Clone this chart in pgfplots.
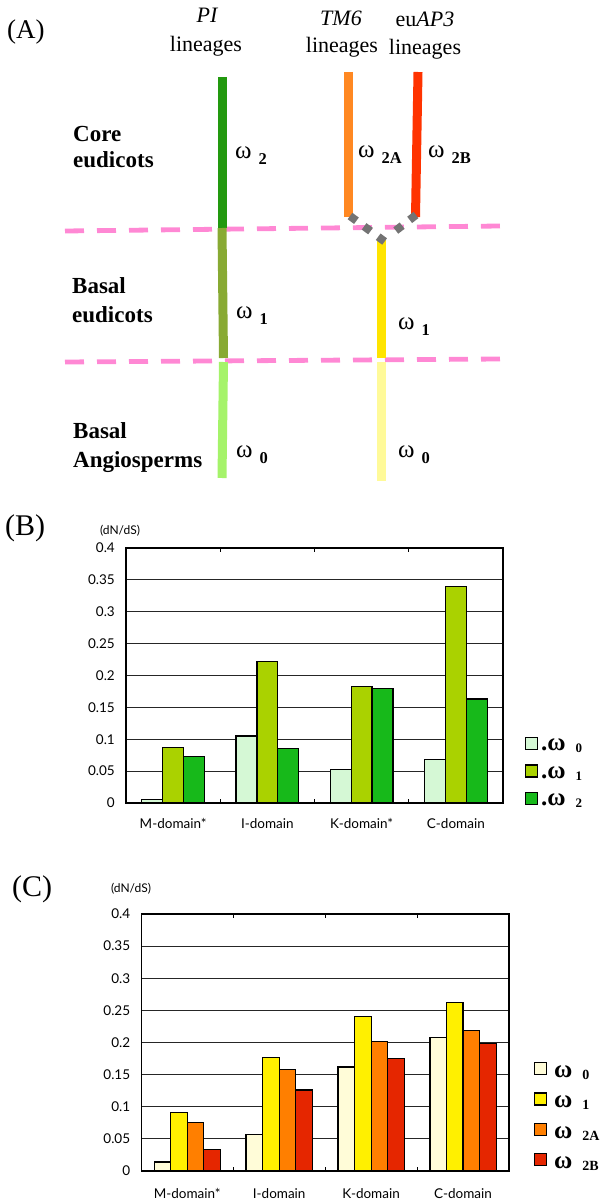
\documentclass[border=0pt]{standalone}
\usepackage{fontspec}
\setmainfont{Liberation Serif}
\newfontfamily\futura{Lato}
\usepackage{pgfplots}
\pgfplotsset{compat=1.18}
\definecolor{gPI}{HTML}{22990F}
\definecolor{gPIb}{HTML}{88AA33}
\definecolor{gPIc}{HTML}{A5F36A}
\definecolor{oTM}{HTML}{FF8822}
\definecolor{rAP}{HTML}{FF3300}
\definecolor{yA}{HTML}{FFE400}
\definecolor{yB}{HTML}{FFFA99}
\definecolor{pk}{HTML}{FF88D4}
\definecolor{gB0}{HTML}{D5F8D5}
\definecolor{gB1}{HTML}{AAD200}
\definecolor{gB2}{HTML}{17B91A}
\definecolor{cC0}{HTML}{FFFCD8}
\definecolor{cC1}{HTML}{FFF000}
\definecolor{cC2}{HTML}{FF7F00}
\definecolor{cC3}{HTML}{E52600}
\newcommand{\om}[1]{\fontsize{25}{25}\selectfont ω\hspace{7pt}\raisebox{-6pt}{\fontsize{16.5}{16.5}\selectfont\bfseries #1}}
\newcommand{\hd}{\fontsize{22}{22}\selectfont}
\newcommand{\bd}{\fontsize{23}{23}\selectfont\bfseries}
\newcommand{\lgB}[1]{\hspace*{3pt}\fontsize{25}{25}\selectfont\bfseries .ω\hspace{10pt}\raisebox{-2pt}{\fontsize{13}{13}\selectfont #1}}
\newcommand{\lgC}[1]{\hspace*{7pt}\fontsize{25}{25}\selectfont\bfseries ω\hspace{10pt}\raisebox{-2pt}{\fontsize{14}{14}\selectfont #1}}
\pgfplotsset{
  barchart/.style={
    scale only axis, ybar, ymin=0, ymax=0.4, xmin=-0.5, xmax=3.5,
    ytick={0,0.05,0.1,0.15,0.2,0.25,0.3,0.35,0.4},
    yticklabels={0,0.05,0.1,0.15,0.2,0.25,0.3,0.35,0.4},
    ytick style={draw=none},
    ymajorgrids, grid style={black!85, line width=1.2pt},
    axis line style={black, line width=1.3pt},
    xtick={0,1,2,3},
    xtick style={draw=none},
    extra x ticks={0.5,1.5,2.5}, extra x tick labels={,,},
    extra x tick style={xtick style={draw=black, line width=1pt}, tick align=inside, major tick length=4pt},
    tick label style={font=\futura\fontsize{13.5}{13.5}\selectfont},
    yticklabel style={anchor=east, inner sep=0pt, xshift=-11pt},
    xticklabel style={anchor=base, inner sep=0pt},
    legend cell align=left,
    legend style={draw=none, fill=none, inner sep=0pt, outer sep=0pt, anchor=north west,
      cells={anchor=base west},
      nodes={inner sep=0pt, text depth=3pt}},
  }
}
\begin{document}
\begin{tikzpicture}
\useasboundingbox (0,0) rectangle (603pt,-1202pt);
% ---------- Panel A (pixel coordinates) ----------
\begin{axis}[at={(0pt,0pt)}, anchor=north west, scale only axis, width=603pt, height=1202pt,
  xmin=0, xmax=603, ymin=-1202, ymax=0, hide axis, clip=false]
\addplot[pk, line width=4.8pt, dash pattern=on 19pt off 13pt, line cap=butt] coordinates {(65,-231) (500,-226)};
\addplot[pk, line width=4.8pt, dash pattern=on 19pt off 13pt, line cap=butt] coordinates {(65,-362) (500,-359)};
\addplot[gPI, line width=9pt, line cap=butt] coordinates {(222,-77) (222,-228)};
\addplot[gPIb, line width=9pt, line cap=butt] coordinates {(222,-228) (223.5,-358)};
\addplot[gPIc, line width=9pt, line cap=butt] coordinates {(223.5,-362) (222,-478)};
\addplot[oTM, line width=9pt, line cap=butt] coordinates {(348,-72) (348,-217)};
\addplot[rAP, line width=9pt, line cap=butt] coordinates {(418,-72) (415.5,-217)};
\addplot[yA, line width=9pt, line cap=butt] coordinates {(381,-240) (381,-358)};
\addplot[yB, line width=9pt, line cap=butt] coordinates {(381,-362) (381,-481)};
\addplot[black!55, line width=8pt, dash pattern=on 8pt off 9.5pt, line cap=butt] coordinates {(350,-216) (388,-244)};
\addplot[black!55, line width=8pt, dash pattern=on 8pt off 9.5pt, line cap=butt] coordinates {(416,-215) (390,-235)};
% labels
\node[anchor=base west, inner sep=0pt, font=\fontsize{27}{27}\selectfont] at (axis cs:7,-39) {(A)};
\node[anchor=base, inner sep=0pt, font=\hd] at (axis cs:207,-23) {\itshape PI};
\node[anchor=base, inner sep=0pt, font=\hd] at (axis cs:206,-52) {lineages};
\node[anchor=base, inner sep=0pt, font=\hd] at (axis cs:341,-26) {\itshape TM6};
\node[anchor=base, inner sep=0pt, font=\hd] at (axis cs:342,-53) {lineages};
\node[anchor=base, inner sep=0pt, font=\hd] at (axis cs:425,-27) {eu\itshape AP3};
\node[anchor=base, inner sep=0pt, font=\hd] at (axis cs:425,-55) {lineages};
\node[anchor=base west, inner sep=0pt, font=\bd] at (axis cs:73,-142) {Core};
\node[anchor=base west, inner sep=0pt, font=\bd] at (axis cs:73,-168) {eudicots};
\node[anchor=base west, inner sep=0pt, font=\bd] at (axis cs:72,-293) {Basal};
\node[anchor=base west, inner sep=0pt, font=\bd] at (axis cs:72,-322) {eudicots};
\node[anchor=base west, inner sep=0pt, font=\bd] at (axis cs:73,-438) {Basal};
\node[anchor=base west, inner sep=0pt, font=\bd] at (axis cs:73,-467) {Angiosperms};
\node[anchor=base west, inner sep=0pt] at (axis cs:235,-159) {\om{2}};
\node[anchor=base west, inner sep=0pt] at (axis cs:358,-158) {\om{2A}};
\node[anchor=base west, inner sep=0pt] at (axis cs:428,-158) {\om{2B}};
\node[anchor=base west, inner sep=0pt] at (axis cs:236,-318) {\om{1}};
\node[anchor=base west, inner sep=0pt] at (axis cs:398,-329) {\om{1}};
\node[anchor=base west, inner sep=0pt] at (axis cs:236,-457) {\om{0}};
\node[anchor=base west, inner sep=0pt] at (axis cs:398,-457) {\om{0}};
% panel titles for B and C
\node[anchor=base west, inner sep=0pt, font=\fontsize{30}{30}\selectfont] at (axis cs:5,-535.5) {(B)};
\node[anchor=base west, inner sep=0pt, font=\fontsize{30}{30}\selectfont] at (axis cs:12,-896) {(C)};
\node[inner sep=0pt, font=\futura\fontsize{12}{12}\selectfont] at (axis cs:120,-531) {(dN/dS)};
\node[inner sep=0pt, font=\futura\fontsize{12}{12}\selectfont] at (axis cs:131,-889) {(dN/dS)};
\end{axis}
% ---------- Panel B ----------
\begin{axis}[barchart, at={(126pt,-803pt)}, anchor=south west, width=377pt, height=255pt,
  xticklabels={M-domain*, I-domain, K-domain*, C-domain},
  xticklabel style={yshift=-21pt},
  legend style={at={(1.058,0.259)}, row sep=10.9pt, nodes={text height=13pt}},
  legend image code/.code={\draw[#1, line width=1.2pt] (0pt,1pt) rectangle (12pt,13pt);},
]
\addplot[fill=gB0, draw=black, line width=1.2pt, bar width=0.222, bar shift=-0.222] coordinates {(0,0.006) (1,0.105) (2,0.052) (3,0.068)};
\addplot[fill=gB1, draw=black, line width=1.2pt, bar width=0.222, bar shift=0] coordinates {(0,0.087) (1,0.222) (2,0.1825) (3,0.340)};
\addplot[fill=gB2, draw=black, line width=1.2pt, bar width=0.222, bar shift=0.222] coordinates {(0,0.073) (1,0.0855) (2,0.179) (3,0.163)};
\legend{{\lgB{0}},{\lgB{1}},{\lgB{2}}}
\end{axis}
% ---------- Panel C ----------
\begin{axis}[barchart, at={(141.3pt,-1171pt)}, anchor=south west, width=367.7pt, height=257pt,
  xticklabels={M-domain*, I-domain, K-domain, C-domain},
  xticklabel style={yshift=-23pt},
  legend style={at={(1.068,0.424)}, row sep=11.7pt, nodes={text height=15pt}},
  legend image code/.code={\draw[#1, line width=1.2pt] (0pt,3pt) rectangle (12pt,15pt);},
]
\addplot[fill=cC0, draw=black, line width=1.2pt, bar width=0.18, bar shift=-0.27] coordinates {(0,0.014) (1,0.057) (2,0.162) (3,0.208)};
\addplot[fill=cC1, draw=black, line width=1.2pt, bar width=0.18, bar shift=-0.09] coordinates {(0,0.091) (1,0.177) (2,0.240) (3,0.262)};
\addplot[fill=cC2, draw=black, line width=1.2pt, bar width=0.18, bar shift=0.09] coordinates {(0,0.076) (1,0.158) (2,0.202) (3,0.219)};
\addplot[fill=cC3, draw=black, line width=1.2pt, bar width=0.18, bar shift=0.27] coordinates {(0,0.034) (1,0.126) (2,0.175) (3,0.199)};
\legend{{\lgC{0}},{\lgC{1}},{\lgC{2A}},{\lgC{2B}}}
\end{axis}
\end{tikzpicture}
\end{document}
